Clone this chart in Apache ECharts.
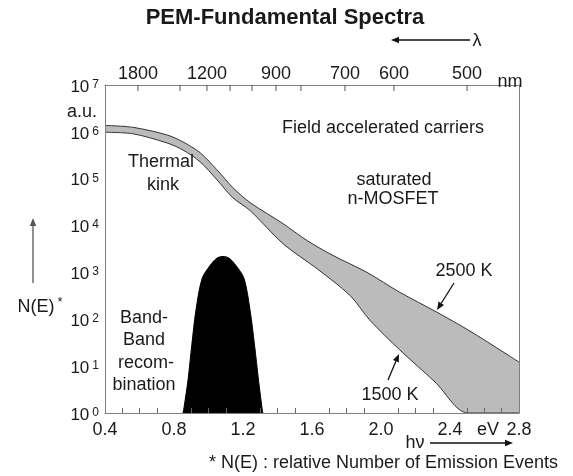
<!DOCTYPE html>
<html><head><meta charset="utf-8">
<script src="https://cdn.jsdelivr.net/npm/echarts@6/dist/echarts.min.js"></script>
<style>html,body{margin:0;padding:0;background:#fff}#c{width:573px;height:476px}</style>
</head><body><div id="c"></div>
<script>
// ---- data (photon energy in eV, relative number of events) ----
const upperEv = [0.40, 0.562, 0.759, 0.852, 0.951, 1.049, 1.142, 1.241, 1.432, 1.571, 1.722, 1.919, 2.110, 2.325, 2.516, 2.80];
const upperN  = [1.37e6, 1.25e6, 8.6e5, 6.1e5, 3.6e5, 1.55e5, 6.4e4, 3.1e4, 1.1e4, 4.8e3, 2.3e3, 1.0e3, 375, 141, 56, 12.2];
const lowerEv = [0.40, 0.562, 0.759, 0.852, 0.951, 1.049, 1.142, 1.241, 1.432, 1.629, 1.820, 1.936, 2.110, 2.313, 2.504, 2.80];
const lowerN  = [9.8e5, 9.1e5, 5.8e5, 4.1e5, 2.3e5, 9.5e4, 3.9e4, 2.1e4, 4.1e3, 1.2e3, 324, 95, 22, 4.6, 1, 1];
const peakEv  = [0.852, 0.858, 0.881, 0.903, 0.927, 0.963, 1.009, 1.049, 1.084, 1.119, 1.159, 1.206, 1.241, 1.267, 1.290, 1.310, 1.315];
const peakN   = [1, 1.3, 5, 28, 155, 745, 1410, 2020, 2190, 2020, 1410, 745, 155, 28, 5, 1.3, 1];
const xTickLabels = ['0.4', '0.8', '1.2', '1.6', '2.0', '2.4', '2.8'];
const yTickExponents = ['0', '1', '2', '3', '4', '5', '6', '7'];
const topLabels = ['1800', '1200', '900', '700', '600', '500'];
const topLabelEv = [0.591, 0.991, 1.391, 1.791, 2.075, 2.499];
const topMinorEv = [0.835, 1.125, 1.252, 1.536];

const FONT = "'Liberation Sans', Arial, Helvetica, sans-serif";
const TXT = '#1a1a1a';
const AX = '#808080';

function txt(x, y, s, size, bold, align) {
  return { type: 'text', x: x, y: y, z: 100, silent: true,
    style: { text: s, font: (bold ? 'bold ' : '') + size + 'px ' + FONT, fill: TXT,
      align: align || 'center', verticalAlign: 'middle' } };
}
function arrow(x1, y1, x2, y2, color) {
  const a = Math.atan2(y2 - y1, x2 - x1), L = 8, W = 3.2;
  const bx = x2 - L * Math.cos(a), by = y2 - L * Math.sin(a);
  const nx = -Math.sin(a), ny = Math.cos(a);
  return [
    { type: 'line', z: 100, silent: true, shape: { x1: x1, y1: y1, x2: bx, y2: by }, style: { stroke: color, lineWidth: 1.3 } },
    { type: 'polygon', z: 100, silent: true, shape: { points: [[x2, y2], [bx + nx * W, by + ny * W], [bx - nx * W, by - ny * W]] }, style: { fill: color } }
  ];
}

const graphics = [].concat(
  [txt(285, 18, 'PEM-Fundamental Spectra', 22, true)],
  arrow(470, 40, 391, 40, '#111'),
  [txt(477, 41, 'λ', 18)],
  [txt(510, 82, 'nm', 18)],
  [txt(82, 112, 'a.u.', 18)],
  [txt(161, 162, 'Thermal', 18), txt(163, 185, 'kink', 18)],
  [txt(383, 128, 'Field accelerated carriers', 18)],
  [txt(394, 180, 'saturated', 18), txt(393, 199, 'n-MOSFET', 18)],
  [txt(464, 271, '2500 K', 18)],
  arrow(454, 283, 437, 310, '#111'),
  [txt(390, 395, '1500 K', 18)],
  arrow(388, 380, 399, 354, '#111'),
  [txt(144, 318, 'Band-', 18), txt(144, 340, 'Band', 18), txt(146, 363, 'recom-', 18), txt(144, 385, 'bination', 18)],
  [txt(36, 307, 'N(E)', 18), txt(60, 302, '*', 13)],
  arrow(33, 283, 33, 218, '#555'),
  [txt(488, 430, 'eV', 18)],
  [txt(415, 443, 'hν', 18)],
  arrow(430, 443, 513, 443, '#111'),
  [txt(558, 463, '* N(E) : relative Number of Emission Events', 18, false, 'right')]
);

const topData = topLabelEv.map((e, i) => [e, 1e7, i]).concat(topMinorEv.map(e => [e, 1e7, -1]));

const chart = echarts.init(document.getElementById('c'), null, { renderer: 'canvas' });
chart.setOption({
  animation: false,
  backgroundColor: '#fff',
  grid: { left: 105, right: 54, top: 85, bottom: 63 },
  xAxis: [{
    type: 'value', min: 0.4, max: 2.8, interval: 0.4, z: 10,
    axisLine: { show: true, onZero: false, lineStyle: { color: AX, width: 1 } },
    axisTick: { show: true, inside: true, length: 5, lineStyle: { color: 'rgba(0,0,0,0)' } },
    minorTick: { show: true, splitNumber: 4, length: 5, lineStyle: { color: '#666' } },
    splitLine: { show: false }, minorSplitLine: { show: false },
    axisLabel: { margin: 8, fontSize: 18, fontFamily: FONT, color: TXT,
      formatter: v => xTickLabels[Math.round((v - 0.4) / 0.4)] }
  }, {
    type: 'value', position: 'top', min: 0.4, max: 2.8, z: 10,
    axisLine: { show: true, onZero: false, lineStyle: { color: AX, width: 1 } },
    axisTick: { show: false }, axisLabel: { show: false }, splitLine: { show: false }
  }],
  yAxis: [{
    type: 'log', logBase: 10, min: 1, max: 1e7, z: 10,
    axisLine: { show: true, onZero: false, lineStyle: { color: AX, width: 1 } },
    axisTick: { show: false }, splitLine: { show: false },
    axisLabel: {
      margin: 6, color: TXT, fontFamily: FONT, padding: [4, 0, 0, 0],
      formatter: v => '{b|10}{e|' + yTickExponents[Math.round(Math.log10(v))] + '}',
      rich: {
        b: { fontSize: 17, lineHeight: 17, fontFamily: FONT, color: TXT },
        e: { fontSize: 12, lineHeight: 12, verticalAlign: 'top', padding: [0, 0, 0, 3], fontFamily: FONT, color: TXT }
      }
    }
  }, {
    type: 'log', logBase: 10, min: 1, max: 1e7, position: 'right', z: 10,
    axisLine: { show: true, onZero: false, lineStyle: { color: AX, width: 1 } },
    axisTick: { show: false }, axisLabel: { show: false }, splitLine: { show: false }
  }],
  graphic: { elements: graphics },
  series: [{
    type: 'line', name: '2500 K', z: 2, smooth: 0.3, symbol: 'none',
    data: upperEv.map((x, i) => [x, upperN[i]]),
    lineStyle: { color: '#333', width: 1 },
    areaStyle: { color: '#bbbbbb', opacity: 1, origin: 'start' }
  }, {
    type: 'line', name: '1500 K', z: 3, smooth: 0.3, symbol: 'none',
    data: lowerEv.map((x, i) => [x, lowerN[i]]),
    lineStyle: { color: '#333', width: 1 },
    areaStyle: { color: '#ffffff', opacity: 1, origin: 'start' }
  }, {
    type: 'line', name: 'band-band', z: 4, smooth: 0.3, symbol: 'none',
    data: peakEv.map((x, i) => [x, peakN[i]]),
    lineStyle: { color: '#000', width: 1 },
    areaStyle: { color: '#000', opacity: 1, origin: 'start' }
  }, {
    type: 'custom', z: 11, silent: true, clip: false,
    xAxisIndex: 0, yAxisIndex: 0,
    encode: { x: 0, y: 1 },
    data: topData,
    renderItem: function (params, api) {
      const p = api.coord([api.value(0), api.value(1)]);
      const idx = api.value(2);
      const children = [{ type: 'line', shape: { x1: p[0], y1: p[1], x2: p[0], y2: p[1] + 6 }, style: { stroke: '#555', lineWidth: 1 } }];
      if (idx >= 0) {
        children.push({ type: 'text', x: p[0], y: p[1] - 11,
          style: { text: topLabels[idx], font: '18px ' + FONT, fill: TXT, align: 'center', verticalAlign: 'middle' } });
      }
      return { type: 'group', children: children };
    }
  }]
});
</script>
</body></html>
